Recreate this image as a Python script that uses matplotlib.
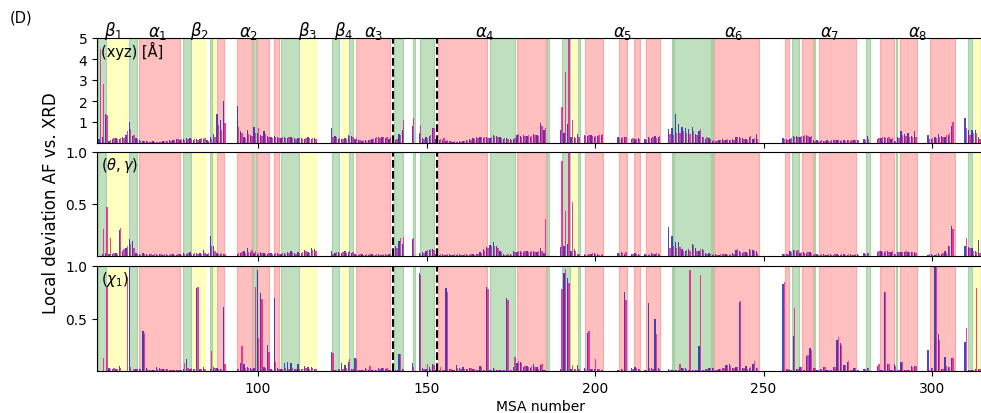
import numpy as np
import matplotlib
matplotlib.use("Agg")
import matplotlib.pyplot as plt
import matplotlib.transforms as mtransforms

# ---------------- data ----------------
msa = list(range(53, 315))

xyz_blue = [
    0.2, 0.3, 1.4, 0.1, 0.2, 0.25, 0.2, 0.3, 0.4, 1.0,
    0.35, 0.25, 0.12, 0.1, 0.08, 0.06, 0.08, 0.05, 0.06, 0.08,
    0.1, 0.12, 0.15, 0.2, 0.15, 0.2, 0.22, 0.25, 0.15, 0.18,
    0.2, 0.2, 0.15, 0.3, 0.45, 1.4, 1.1, 2.0, 0, 0,
    0, 1.75, 0.55, 0.3, 0.6, 0.4, 0.75, 0.5, 0.4, 0.55,
    0.35, 0.3, 0.35, 0.3, 0.25, 0.3, 0.25, 0.3, 0.25, 0.22,
    0.25, 0.2, 0.28, 0.2, 0.22, 0, 0, 0, 0, 0.7,
    0.35, 0.2, 0.2, 0.22, 0.38, 0.35, 0.2, 0.15, 0.1, 0.12,
    0.15, 0.2, 0.25, 0.3, 0.28, 0.25, 0.2, 0.2, 0.15, 0.45,
    0.6, 0, 0, 0.8, 0, 0.5, 0.25, 0.3, 0.35, 0.7,
    0.2, 0.15, 0.15, 0.1, 0.08, 0.05, 0.06, 0.08, 0.1, 0.12,
    0.2, 0.25, 0.3, 0.3, 0.25, 0.3, 0.25, 0.4, 0.35, 0.3,
    0.2, 0.25, 0.18, 0.2, 0.4, 0.35, 0.4, 0.35, 0.3, 0.45,
    0.4, 0.95, 0.6, 0, 0, 0, 0, 0.6, 0.5, 0.9,
    0.3, 0.3, 0.45, 0, 0.4, 0.35, 0.4, 0.3, 0.35, 0.4,
    0, 0, 0, 0, 0.3, 0.25, 0.3, 0, 0.2, 0.2,
    0.25, 0, 0.2, 0.3, 0.25, 0.35, 0.3, 0, 0, 0.65,
    0.7, 1.4, 0.9, 0.75, 0.7, 0.65, 0.75, 0.45, 0.55, 0.3,
    0.2, 0.25, 0.1, 0.1, 0.15, 0.2, 0.15, 0.15, 0.2, 0.3,
    0.3, 0.25, 0.2, 0.3, 0.2, 0.45, 0, 0, 0, 0,
    0, 0, 0, 0.25, 0.2, 0.2, 0.35, 0.35, 0.3, 0.35,
    0.4, 0.3, 0.15, 0.12, 0.1, 0.1, 0.12, 0.1, 0.15, 0.12,
    0.1, 0.15, 0.12, 0.1, 0.15, 0.15, 0, 0.2, 0.35, 0,
    0, 0.2, 0.25, 0.3, 0.25, 0.2, 0.1, 0.3, 0.55, 0.45,
    0.5, 0.35, 0.55, 0, 0, 0, 0.4, 0.2, 0.3, 0.45,
    0.35, 0.3, 0.4, 0.8, 0, 0, 0, 1.2, 0.6, 0.6,
    0.6, 0.3,
]
xyz_pink = [
    4.5, 2.8, 1.35, 0.15, 0.25, 0.2, 0.25, 0.25, 0.55, 0.65,
    0.4, 0.2, 0.1, 0.08, 0.1, 0.05, 0.06, 0.06, 0.05, 0.1,
    0.08, 0.1, 0.12, 0.18, 0.2, 0.15, 0.2, 0.2, 0.2, 0.15,
    0.22, 0.25, 0.1, 0.2, 0.3, 0.85, 0.6, 0.95, 0, 0,
    0, 0.75, 0.5, 0.25, 0.45, 0.35, 0.5, 0.7, 0.35, 0.45,
    0.3, 0.25, 0.3, 0.25, 0.3, 0.25, 0.28, 0.25, 0.2, 0.25,
    0.2, 0.25, 0.22, 0.25, 0.2, 0, 0, 0, 0, 0.3,
    0.3, 0.25, 0.18, 0.2, 0.35, 0.3, 0.25, 0.12, 0.12, 0.1,
    0.12, 0.18, 0.3, 0.25, 0.3, 0.28, 0.3, 0.15, 0.2, 0.4,
    1.1, 0, 0, 1.2, 0, 0.85, 0.2, 0.25, 0.4, 0.7,
    0.25, 0.2, 0.25, 0.15, 0.1, 0.08, 0.05, 0.06, 0.08, 0.1,
    0.15, 0.2, 0.25, 0.28, 0.3, 0.25, 0.3, 0.35, 0.3, 0.25,
    0.25, 0.2, 0.15, 0.25, 0.45, 0.3, 0.35, 0.4, 0.35, 0.4,
    0.35, 0.8, 0.7, 0, 0, 0, 0, 1.7, 3.4, 6.0,
    1.1, 0.25, 0.3, 0, 0.35, 0.4, 0.35, 0.35, 0.4, 0.45,
    0, 0, 0, 0, 0.25, 0.3, 0.3, 0, 0.25, 0.2,
    0.2, 0, 0.15, 0.25, 0.3, 0.25, 0.35, 0, 0, 0.45,
    0.4, 0.5, 0.5, 0.55, 0.5, 0.45, 0.55, 0.4, 0.65, 0.3,
    0.3, 0.2, 0.12, 0.08, 0.12, 0.15, 0.2, 0.12, 0.15, 0.3,
    0.25, 0.2, 0.15, 0.35, 0.25, 0.2, 0, 0, 0, 0,
    0, 0, 0, 0.2, 0.15, 0.25, 0.3, 0.3, 0.35, 0.4,
    0.35, 0.35, 0.1, 0.1, 0.12, 0.1, 0.1, 0.12, 0.12, 0.15,
    0.12, 0.1, 0.15, 0.12, 0.12, 0.12, 0, 0.15, 0.2, 0,
    0, 0.25, 0.3, 0.25, 0.3, 0.25, 0.1, 0.25, 0.4, 0.35,
    0.3, 0.3, 0.3, 0, 0, 0, 0.2, 0.25, 0.25, 0.3,
    0.3, 0.4, 0.5, 1.0, 0, 0, 0, 0.7, 0.4, 0.5,
    0.5, 0.2,
]

ang_blue = [
    0, 0.02, 0.03, 0.02, 0.02, 0.03, 0.25, 0.05, 0.08, 0.16,
    0.14, 0.03, 0.02, 0.03, 0.02, 0.02, 0.01, 0.02, 0.02, 0.01,
    0.02, 0.01, 0.02, 0.01, 0.02, 0.03, 0.02, 0.04, 0.02, 0.03,
    0.03, 0.06, 0.02, 0.19, 0.1, 0.03, 0.02, 0.02, 0, 0,
    0, 0.02, 0.03, 0.05, 0.08, 0.04, 0.03, 0.02, 0.04, 0.03,
    0.02, 0.03, 0.02, 0.03, 0.02, 0.03, 0.04, 0.05, 0.03, 0.04,
    0.03, 0.06, 0.04, 0.08, 0.07, 0, 0, 0, 0, 0.05,
    0.03, 0.04, 0.03, 0.05, 0.04, 0.03, 0.02, 0.01, 0.02, 0.01,
    0.01, 0.02, 0.01, 0.02, 0.01, 0.02, 0.02, 0.05, 0.1, 0.14,
    0.12, 0, 0, 0.16, 0, 0.03, 0.04, 0.05, 0.06, 0.07,
    0.02, 0.01, 0.02, 0.01, 0.02, 0.01, 0.01, 0.02, 0.01, 0.02,
    0.01, 0.02, 0.02, 0.04, 0.07, 0.09, 0.11, 0.13, 0.1, 0.05,
    0.02, 0.01, 0.02, 0.05, 0.04, 0.05, 0.04, 0.05, 0.04, 0.05,
    0.04, 0.08, 0.03, 0, 0, 0, 0, 0.09, 0.1, 0.12,
    0.05, 0.07, 0.02, 0, 0.02, 0.01, 0.02, 0.03, 0.02, 0.01,
    0, 0, 0, 0, 0.03, 0.04, 0.02, 0, 0.02, 0.03,
    0.02, 0, 0.02, 0.01, 0.03, 0.02, 0.02, 0, 0, 0.28,
    0.19, 0.13, 0.13, 0.07, 0.05, 0.07, 0.12, 0.08, 0.05, 0.07,
    0.03, 0.03, 0.01, 0.02, 0.01, 0.02, 0.02, 0.01, 0.03, 0.06,
    0.05, 0.03, 0.04, 0.07, 0.06, 0.05, 0, 0, 0, 0,
    0, 0, 0, 0.02, 0.02, 0.05, 0.06, 0.05, 0.03, 0.04,
    0.03, 0.04, 0.01, 0.02, 0.01, 0.02, 0.01, 0.02, 0.01, 0.02,
    0.01, 0.02, 0.01, 0.02, 0.01, 0.02, 0, 0.03, 0.03, 0,
    0, 0.04, 0.05, 0.04, 0.05, 0.04, 0.02, 0.04, 0.04, 0.04,
    0.04, 0.04, 0.04, 0, 0, 0, 0.01, 0.02, 0.01, 0.03,
    0.02, 0.05, 0.1, 0.29, 0, 0, 0, 0.1, 0.09, 0.08,
    0.05, 0.15,
]
ang_pink = [
    0, 0.26, 0.47, 0.17, 0.03, 0.02, 0.27, 0.07, 0.1, 0.12,
    0.08, 0.02, 0.01, 0.02, 0.01, 0.02, 0.02, 0.01, 0.02, 0.02,
    0.01, 0.02, 0.01, 0.02, 0.01, 0.02, 0.03, 0.02, 0.03, 0.02,
    0.02, 0.03, 0.03, 0.1, 0.05, 0.02, 0.03, 0.02, 0, 0,
    0, 0.03, 0.04, 0.03, 0.04, 0.06, 0.05, 0.03, 0.03, 0.02,
    0.03, 0.02, 0.03, 0.02, 0.03, 0.02, 0.03, 0.04, 0.02, 0.03,
    0.04, 0.05, 0.03, 0.06, 0.05, 0, 0, 0, 0, 0.02,
    0.04, 0.03, 0.04, 0.03, 0.05, 0.04, 0.01, 0.02, 0.01, 0.02,
    0.02, 0.01, 0.02, 0.01, 0.02, 0.01, 0.02, 0.04, 0.08, 0.17,
    0.18, 0, 0, 0.17, 0, 0.02, 0.03, 0.06, 0.07, 0.06,
    0.01, 0.02, 0.01, 0.02, 0.01, 0.02, 0.02, 0.01, 0.02, 0.01,
    0.02, 0.01, 0.02, 0.03, 0.05, 0.08, 0.1, 0.1, 0.08, 0.04,
    0.01, 0.02, 0.01, 0.04, 0.05, 0.04, 0.05, 0.04, 0.05, 0.04,
    0.05, 0.05, 0.36, 0, 0, 0, 0, 0.91, 0.43, 1.5,
    0.52, 0.05, 0.02, 0, 0.01, 0.02, 0.03, 0.02, 0.01, 0.02,
    0, 0, 0, 0, 0.02, 0.03, 0.04, 0, 0.02, 0.02,
    0.01, 0, 0.01, 0.02, 0.02, 0.03, 0.02, 0, 0, 0.08,
    0.1, 0.08, 0.09, 0.05, 0.06, 0.05, 0.11, 0.05, 0.07, 0.06,
    0.02, 0.02, 0.02, 0.01, 0.02, 0.02, 0.01, 0.02, 0.02, 0.07,
    0.04, 0.04, 0.03, 0.06, 0.05, 0.03, 0, 0, 0, 0,
    0, 0, 0, 0.02, 0.02, 0.04, 0.06, 0.06, 0.04, 0.03,
    0.04, 0.03, 0.02, 0.01, 0.02, 0.01, 0.02, 0.01, 0.02, 0.01,
    0.02, 0.01, 0.02, 0.01, 0.02, 0.01, 0, 0.02, 0.03, 0,
    0, 0.05, 0.04, 0.05, 0.04, 0.05, 0.02, 0.04, 0.04, 0.05,
    0.04, 0.04, 0.03, 0, 0, 0, 0.02, 0.01, 0.02, 0.01,
    0.03, 0.03, 0.1, 0.26, 0, 0, 0, 0.17, 0.08, 0.05,
    0.04, 0.03,
]

chi_blue = [
    0, 0, 0, 0.03, 0.02, 0.02, 0.05, 0, 0, 1.0,
    0, 0.02, 0.02, 0.38, 0.03, 0.01, 0.01, 0.04, 0.03, 0.02,
    0.02, 0.01, 0.01, 0.01, 0.01, 0.02, 0.11, 0.02, 0.02, 0.79,
    0.02, 0.04, 0, 0.02, 0.04, 0.03, 0.02, 0.61, 0, 0,
    0, 0.02, 0.08, 0.07, 0.04, 0.03, 0.03, 0.96, 0.74, 0.04,
    0.25, 0.02, 0.7, 0.03, 0.02, 0.08, 0.09, 0.08, 0.02, 0.07,
    0.02, 0.05, 0.04, 0.04, 0.02, 0, 0, 0, 0, 0.18,
    0.01, 0.02, 0.08, 0.06, 0.09, 0.02, 0.12, 0.01, 0.01, 0.03,
    0.01, 0.01, 0.01, 0.03, 0.03, 0.02, 0.01, 0.01, 0.01, 0.16,
    0.02, 0, 0, 0.08, 0, 0.93, 0.03, 0.02, 0.04, 0.07,
    0.01, 0.01, 0.01, 0.79, 0.02, 0.01, 0.06, 0.03, 0.04, 0.02,
    0.03, 0.02, 0.01, 0.05, 0.01, 0.8, 0.01, 0.03, 0.01, 0.01,
    0.01, 0.7, 0.01, 0.04, 0.08, 0.09, 0.04, 0.05, 0.03, 0.07,
    0.04, 0.06, 0.01, 0, 0, 0, 0, 0.02, 0.93, 0.89,
    0.02, 0.02, 0.06, 0, 0.03, 0.36, 0.02, 0.02, 0.02, 0.01,
    0, 0, 0, 0, 0.01, 0.02, 0.75, 0, 0.03, 0.04,
    0.02, 0, 0.01, 0.65, 0.03, 0.5, 0.03, 0, 0, 0.02,
    0.01, 0.01, 0.01, 0.03, 0.03, 0.01, 0.01, 0.01, 0.24, 0.01,
    0.02, 0.03, 0.03, 0.01, 0.02, 0.03, 0.06, 0.07, 0.03, 0.04,
    0.66, 0.03, 0.05, 0.03, 0.07, 0.03, 0, 0, 0, 0,
    0, 0, 0, 0.83, 0.02, 0.01, 0.33, 0.02, 0.04, 0.01,
    0.14, 0.22, 0.03, 0.01, 0.02, 0.04, 0.01, 0.01, 0.04, 0.3,
    0.27, 0.06, 0.09, 0.01, 0.03, 0.01, 0, 0.02, 0.03, 0,
    0, 0.05, 0.01, 0.75, 0.07, 0.01, 0.07, 0.01, 0.09, 0.01,
    0.01, 0.05, 0.05, 0, 0, 0, 0.2, 0.03, 1.0, 0.35,
    0.02, 0.13, 0.04, 0.12, 0, 0, 0, 0.28, 0.01, 0.01,
    0.02, 0.02,
]
chi_pink = [
    0, 0.12, 0.81, 0.02, 0.03, 0.02, 0.03, 0, 0.9, 0.04,
    0.02, 0.02, 0.02, 0.36, 0.02, 0.01, 0.01, 0.02, 0.02, 0.02,
    0.02, 0.01, 0.01, 0.01, 0.01, 0.08, 0.03, 0.03, 0.02, 0.8,
    0.02, 0.02, 0, 0.19, 0.03, 0.02, 0.02, 0.07, 0, 0,
    0, 0.02, 0.24, 0.03, 0.03, 0.02, 0.8, 0.31, 0.69, 0.03,
    0.18, 0.01, 0.09, 0.02, 0.02, 0.03, 0.02, 0.03, 0.02, 0.02,
    0.02, 0.03, 0.02, 0.03, 0.02, 0, 0, 0, 0, 0.17,
    0.01, 0.02, 0.02, 0.03, 0.11, 0.02, 0.11, 0.01, 0.01, 0.02,
    0.05, 0.01, 0.01, 0.02, 0.03, 0.03, 0.01, 0.04, 0.01, 0.16,
    0.02, 0, 0, 0.04, 0, 0.91, 0.02, 0.07, 0.02, 0.06,
    0.01, 0.04, 0.01, 0.75, 0.02, 0.01, 0.03, 0.02, 0.02, 0.02,
    0.03, 0.02, 0.01, 0.04, 0.01, 0.78, 0.01, 0.02, 0.01, 0.01,
    0.01, 0.68, 0.01, 0.13, 0.1, 0.08, 0.05, 0.04, 0.05, 0.04,
    0.02, 0.07, 0.01, 0, 0, 0, 0, 0.78, 0.97, 0.84,
    0.06, 0.02, 0.02, 0, 0.02, 0.38, 0.02, 0.11, 0.02, 0.01,
    0, 0, 0, 0, 0.01, 0.02, 0.68, 0, 0.02, 0.03,
    0.02, 0, 0.01, 0.03, 0.02, 0.35, 0.02, 0, 0, 0.01,
    0.01, 0.01, 0.07, 0.03, 0.02, 0.96, 0.01, 0.01, 0.91, 0.01,
    0.02, 0.03, 0.03, 0.01, 0.02, 0.03, 0.06, 0.05, 0.03, 0.04,
    0.67, 0.03, 0.02, 0.04, 0.1, 0.03, 0, 0, 0, 0,
    0, 0, 0, 0.85, 0.02, 0.01, 0.6, 0.02, 0.04, 0.01,
    0.15, 0.2, 0.03, 0.01, 0.02, 0.04, 0.01, 0.01, 0.04, 0.32,
    0.25, 0.06, 0.1, 0.01, 0.03, 0.01, 0, 0.02, 0.03, 0,
    0, 0.07, 0.01, 0.75, 0.07, 0.01, 0.05, 0.01, 0.09, 0.01,
    0.01, 0.04, 0.05, 0, 0, 0, 0.01, 0.03, 1.0, 0.3,
    0.02, 0.05, 0.04, 0.12, 0, 0, 0, 0.41, 0.01, 0.01,
    0.79, 0.02,
]

# secondary-structure shading: (start, end, kind)  G=green, Y=yellow, R=red
span_start = [52.4, 55.6, 61.7, 64.7, 77.8, 80.8, 85.8, 86.5, 87.7, 93.8, 98.6, 99.8,
              104.7, 106.8, 112.8, 122.0, 124.8, 126.9, 129.0, 140.4, 146.0, 148.1,
              153.3, 168.8, 176.9, 185.8, 190.1, 193.1, 195.0, 197.0, 207.1, 211.4,
              215.1, 222.8, 223.5, 234.6, 235.4, 256.4, 258.4, 261.3, 265.0, 266.5,
              280.4, 284.4, 289.4, 290.5, 299.4, 310.5, 312.3]
span_end = [54.9, 61.0, 64.0, 76.9, 80.1, 84.1, 86.2, 87.2, 90.0, 98.3, 99.3, 103.1,
            106.2, 112.2, 117.2, 124.1, 126.3, 128.3, 139.2, 143.1, 146.5, 152.3,
            168.0, 176.3, 185.4, 186.2, 192.6, 194.3, 195.4, 202.3, 209.4, 213.4,
            219.3, 223.2, 234.4, 234.9, 248.5, 257.6, 260.5, 264.6, 265.3, 277.5,
            281.6, 288.7, 289.7, 295.6, 306.8, 311.8, 314.6]
span_kind = ["G", "Y", "G", "R", "G", "Y", "G", "Y", "R", "R", "G", "R",
             "R", "G", "Y", "G", "Y", "G", "R", "G", "G", "G",
             "R", "G", "R", "G", "G", "Y", "G", "R", "R", "R",
             "R", "G", "G", "G", "R", "R", "G", "R", "G", "R",
             "G", "R", "G", "R", "R", "G", "Y"]

ss_labels = [r"$\beta_1$", r"$\alpha_1$", r"$\beta_2$", r"$\alpha_2$", r"$\beta_3$", r"$\beta_4$",
             r"$\alpha_3$", r"$\alpha_4$", r"$\alpha_5$", r"$\alpha_6$", r"$\alpha_7$", r"$\alpha_8$"]
ss_label_pos = [57.0, 70.3, 82.5, 97.3, 114.8, 125.5, 134.4, 167.4, 208.3, 241.0, 269.7, 295.6]

domain_lines = [140.0, 153.0]

panel_titles = ["(xyz) [Å]", r"$(\theta,\gamma)$", r"$(\chi_1)$"]
panel_ylim = [(0, 5), (0, 1), (0, 1)]
panel_yticks = [[1, 2, 3, 4, 5], [0.5, 1.0], [0.5, 1.0]]
panel_yticklabels = [["1", "2", "3", "4", "5"], ["0.5", "1.0"], ["0.5", "1.0"]]
xticks = [100, 150, 200, 250, 300]

# ---------------- figure ----------------
W, H = 981, 414
fig = plt.figure(figsize=(W / 100, H / 100), dpi=100)

def ax_rect(top_px, bot_px, left_px=97, right_px=981):
    return [left_px / W, 1 - bot_px / H, (right_px - left_px) / W, (bot_px - top_px) / H]

rects = [ax_rect(39, 144), ax_rect(153, 257), ax_rect(267, 372)]
span_colors = {"G": "green", "Y": "yellow", "R": "red"}
series = [(xyz_blue, xyz_pink), (ang_blue, ang_pink), (chi_blue, chi_pink)]
x = np.array(msa, dtype=float)

axes = []
for k, rect in enumerate(rects):
    ax = fig.add_axes(rect)
    axes.append(ax)
    for s, e, kd in zip(span_start, span_end, span_kind):
        ax.axvspan(s, e, color=span_colors[kd], alpha=0.25, lw=0.8, zorder=0)
    b, p = series[k]
    ax.bar(x - 0.2, b, width=0.4, color="#1c1cb4", alpha=0.8, lw=0, zorder=2)
    ax.bar(x + 0.2, p, width=0.4, color="#f0108c", alpha=0.8, lw=0, zorder=2)
    for dl in domain_lines:
        ax.axvline(dl, color="black", ls="--", lw=1.5, zorder=3)
    ax.set_xlim(52.2, 314.5)
    ax.set_ylim(*panel_ylim[k])
    ax.set_yticks(panel_yticks[k])
    ax.set_yticklabels(panel_yticklabels[k], fontsize=10)
    ax.set_xticks(xticks)
    if k < 2:
        ax.set_xticklabels([])
    else:
        ax.set_xticklabels([str(t) for t in xticks], fontsize=10)
    ax.text(0.004, 0.97, panel_titles[k], transform=ax.transAxes, ha="left", va="top",
            fontsize=10.5, zorder=4)

trans = mtransforms.blended_transform_factory(axes[0].transData, axes[0].transAxes)
for lab, pos in zip(ss_labels, ss_label_pos):
    axes[0].text(pos, 0.975, lab, transform=trans, ha="center", va="bottom", fontsize=12)

fig.text(10 / W, 1 - 18 / H, "(D)", fontsize=10.5, ha="left", va="center")
fig.text(51 / W, 1 - 203 / H, "Local deviation AF vs. XRD", rotation=90, fontsize=12,
         ha="center", va="center")
fig.text(540 / W, 1 - 407 / H, "MSA number", fontsize=10, ha="center", va="center")

fig.savefig("out.png", dpi=100)
